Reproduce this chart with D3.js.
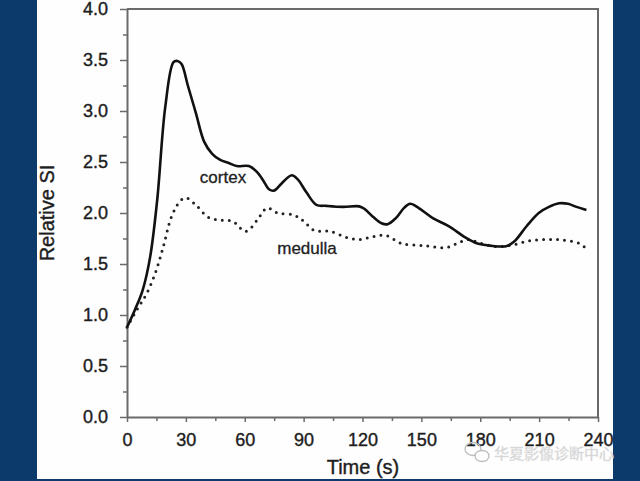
<!DOCTYPE html>
<html>
<head>
<meta charset="utf-8">
<script src="https://cdn.jsdelivr.net/npm/d3@7"></script>
<style>
  html, body { margin: 0; padding: 0; background: #0b3a6b; }
  svg { display: block; }
</style>
</head>
<body>
<div id="chart"></div>
<script>
// time (s) and relative SI
var cortexTime = [0, 4, 8, 11.8, 15.4, 19.5, 23.7, 25.7, 27.8, 31, 35.1, 39.3, 43.4, 47.5, 51.8, 55.9, 62.1, 66.3, 70, 72.5, 75, 78.8, 84, 87, 91.5, 96.5, 101.6, 110, 118.3, 121, 125.5, 129.7, 132.8, 137, 141.2, 144.3, 148.5, 155.8, 164.1, 172.4, 178.6, 184.9, 193.2, 197.3, 203.6, 209.8, 215, 220.2, 224.7, 229, 234.1];
var cortexSI   = [0.88, 1.05, 1.245, 1.57, 2.13, 3.04, 3.48, 3.49, 3.46, 3.25, 2.98, 2.7, 2.58, 2.52, 2.49, 2.46, 2.46, 2.40, 2.30, 2.23, 2.22, 2.29, 2.37, 2.33, 2.2, 2.08, 2.07, 2.06, 2.065, 2.04, 1.96, 1.90, 1.89, 1.95, 2.05, 2.09, 2.05, 1.95, 1.87, 1.76, 1.70, 1.68, 1.675, 1.72, 1.87, 2.0, 2.06, 2.095, 2.09, 2.06, 2.03];

var medullaTime = [0, 5, 10, 14.4, 18.5, 22.6, 26.8, 29.9, 35, 41.3, 47.5, 53.8, 60, 63, 67.4, 71.4, 76.7, 85, 90, 95.3, 103.6, 112, 118.3, 125.6, 131.8, 140.1, 151.6, 162, 168.2, 173.5, 180.7, 189, 197.3, 205.6, 214, 222, 230.6, 234];
var medullaSI   = [0.88, 1.05, 1.21, 1.41, 1.67, 1.96, 2.11, 2.15, 2.08, 1.96, 1.93, 1.92, 1.82, 1.85, 1.96, 2.05, 2.0, 1.98, 1.92, 1.83, 1.82, 1.76, 1.74, 1.77, 1.78, 1.70, 1.68, 1.66, 1.70, 1.74, 1.70, 1.67, 1.69, 1.73, 1.74, 1.735, 1.70, 1.65];

var xTicks = [0, 30, 60, 90, 120, 150, 180, 210, 240];
var yTicks = [0, 0.5, 1, 1.5, 2, 2.5, 3, 3.5, 4];

var W = 640, H = 481;
var svg = d3.select("#chart").append("svg")
    .attr("width", W)
    .attr("height", H)
    .style("font-family", "'Liberation Sans', Arial, sans-serif");

// blue slide background with white panel
svg.append("rect").attr("width", W).attr("height", H).attr("fill", "#0b3a6b");
svg.append("rect").attr("x", 37).attr("y", 0).attr("width", 576).attr("height", 479).attr("fill", "#fefefe");

var x = d3.scaleLinear().domain([0, 240]).range([127, 598]);
var y = d3.scaleLinear().domain([0, 4]).range([417, 9]);

var axisColor = "#6a6a6a";
var textColor = "#1e1e1e";

// frame (top and right)
svg.append("path")
    .attr("d", "M" + x(0) + "," + y(4) + "H" + x(240) + "V" + y(0))
    .attr("fill", "none")
    .attr("stroke", axisColor)
    .attr("stroke-width", 2);

//minor ticks
svg.append("g")
    .attr("transform", "translate(" + x(0) + ",0)")
    .call(d3.axisLeft(y).tickValues(d3.range(0.25, 4, 0.5)).tickSize(4).tickFormat(""))
    .call(function(g) { g.select(".domain").remove(); });
svg.append("g")
    .attr("transform", "translate(0," + y(0) + ")")
    .call(d3.axisBottom(x).tickValues(d3.range(15, 240, 30)).tickSize(4).tickFormat(""))
    .call(function(g) { g.select(".domain").remove(); });

var yAxis = svg.append("g")
    .attr("transform", "translate(" + x(0) + ",0)")
    .call(d3.axisLeft(y).tickValues(yTicks).tickSize(7).tickPadding(12).tickSizeOuter(0).tickFormat(d3.format(".1f")));
var xAxis = svg.append("g")
    .attr("transform", "translate(0," + y(0) + ")")
    .call(d3.axisBottom(x).tickValues(xTicks).tickSize(5).tickPadding(11).tickSizeOuter(0));

svg.selectAll(".tick line").attr("stroke", axisColor).attr("stroke-width", 1.5);
[xAxis, yAxis].forEach(function(a) {
    a.select(".domain").attr("stroke", axisColor).attr("stroke-width", 2);
    a.selectAll("text").attr("font-size", 18).attr("fill", textColor)
        .attr("stroke", textColor).attr("stroke-width", 0.4);
});

// curves
var line = d3.line()
    .x(function(d) { return x(d[0]); })
    .y(function(d) { return y(d[1]); })
    .curve(d3.curveCatmullRom.alpha(0.5));

svg.append("path")
    .datum(d3.zip(medullaTime, medullaSI))
    .attr("d", line)
    .attr("fill", "none")
    .attr("stroke", "#222")
    .attr("stroke-width", 3)
    .attr("stroke-linecap", "round")
    .attr("stroke-dasharray", "0,7");

svg.append("path")
    .datum(d3.zip(cortexTime, cortexSI))
    .attr("d", line)
    .attr("fill", "none")
    .attr("stroke", "#111")
    .attr("stroke-width", 2.6)
    .attr("stroke-linejoin", "round");

// series labels
svg.append("text").attr("x", 223).attr("y", 183).attr("text-anchor", "middle")
    .attr("font-size", 17).attr("fill", "#222").attr("stroke", "#222").attr("stroke-width", 0.3)
    .text("cortex");
svg.append("text").attr("x", 307).attr("y", 254).attr("text-anchor", "middle")
    .attr("font-size", 17).attr("fill", "#222").attr("stroke", "#222").attr("stroke-width", 0.3)
    .text("medulla");

// axis titles
svg.append("text").attr("x", 363).attr("y", 474).attr("text-anchor", "middle")
    .attr("font-size", 20).attr("fill", textColor).attr("stroke", textColor).attr("stroke-width", 0.4)
    .text("Time (s)");
svg.append("text")
    .attr("transform", "translate(54,213) rotate(-90)")
    .attr("text-anchor", "middle")
    .attr("font-size", 20).attr("fill", textColor).attr("stroke", textColor).attr("stroke-width", 0.4)
    .text("Relative SI");

// watermark
var wm = svg.append("g").attr("fill", "none").attr("stroke", "#bdbdbd").attr("stroke-width", 1.3);
wm.append("ellipse").attr("cx", 473).attr("cy", 449).attr("rx", 8).attr("ry", 6.5);
wm.append("ellipse").attr("cx", 482).attr("cy", 456).attr("rx", 7).attr("ry", 5.5).attr("fill", "#fefefe");
svg.append("text").attr("x", 494).attr("y", 459)
    .attr("font-family", "'Noto Sans CJK SC', sans-serif")
    .attr("font-size", 15)
    .attr("fill", "#c4c4c4")
    .attr("stroke", "#e6e6e6").attr("stroke-width", 0.5)
    .text("华夏影像诊断中心");
</script>
</body>
</html>
